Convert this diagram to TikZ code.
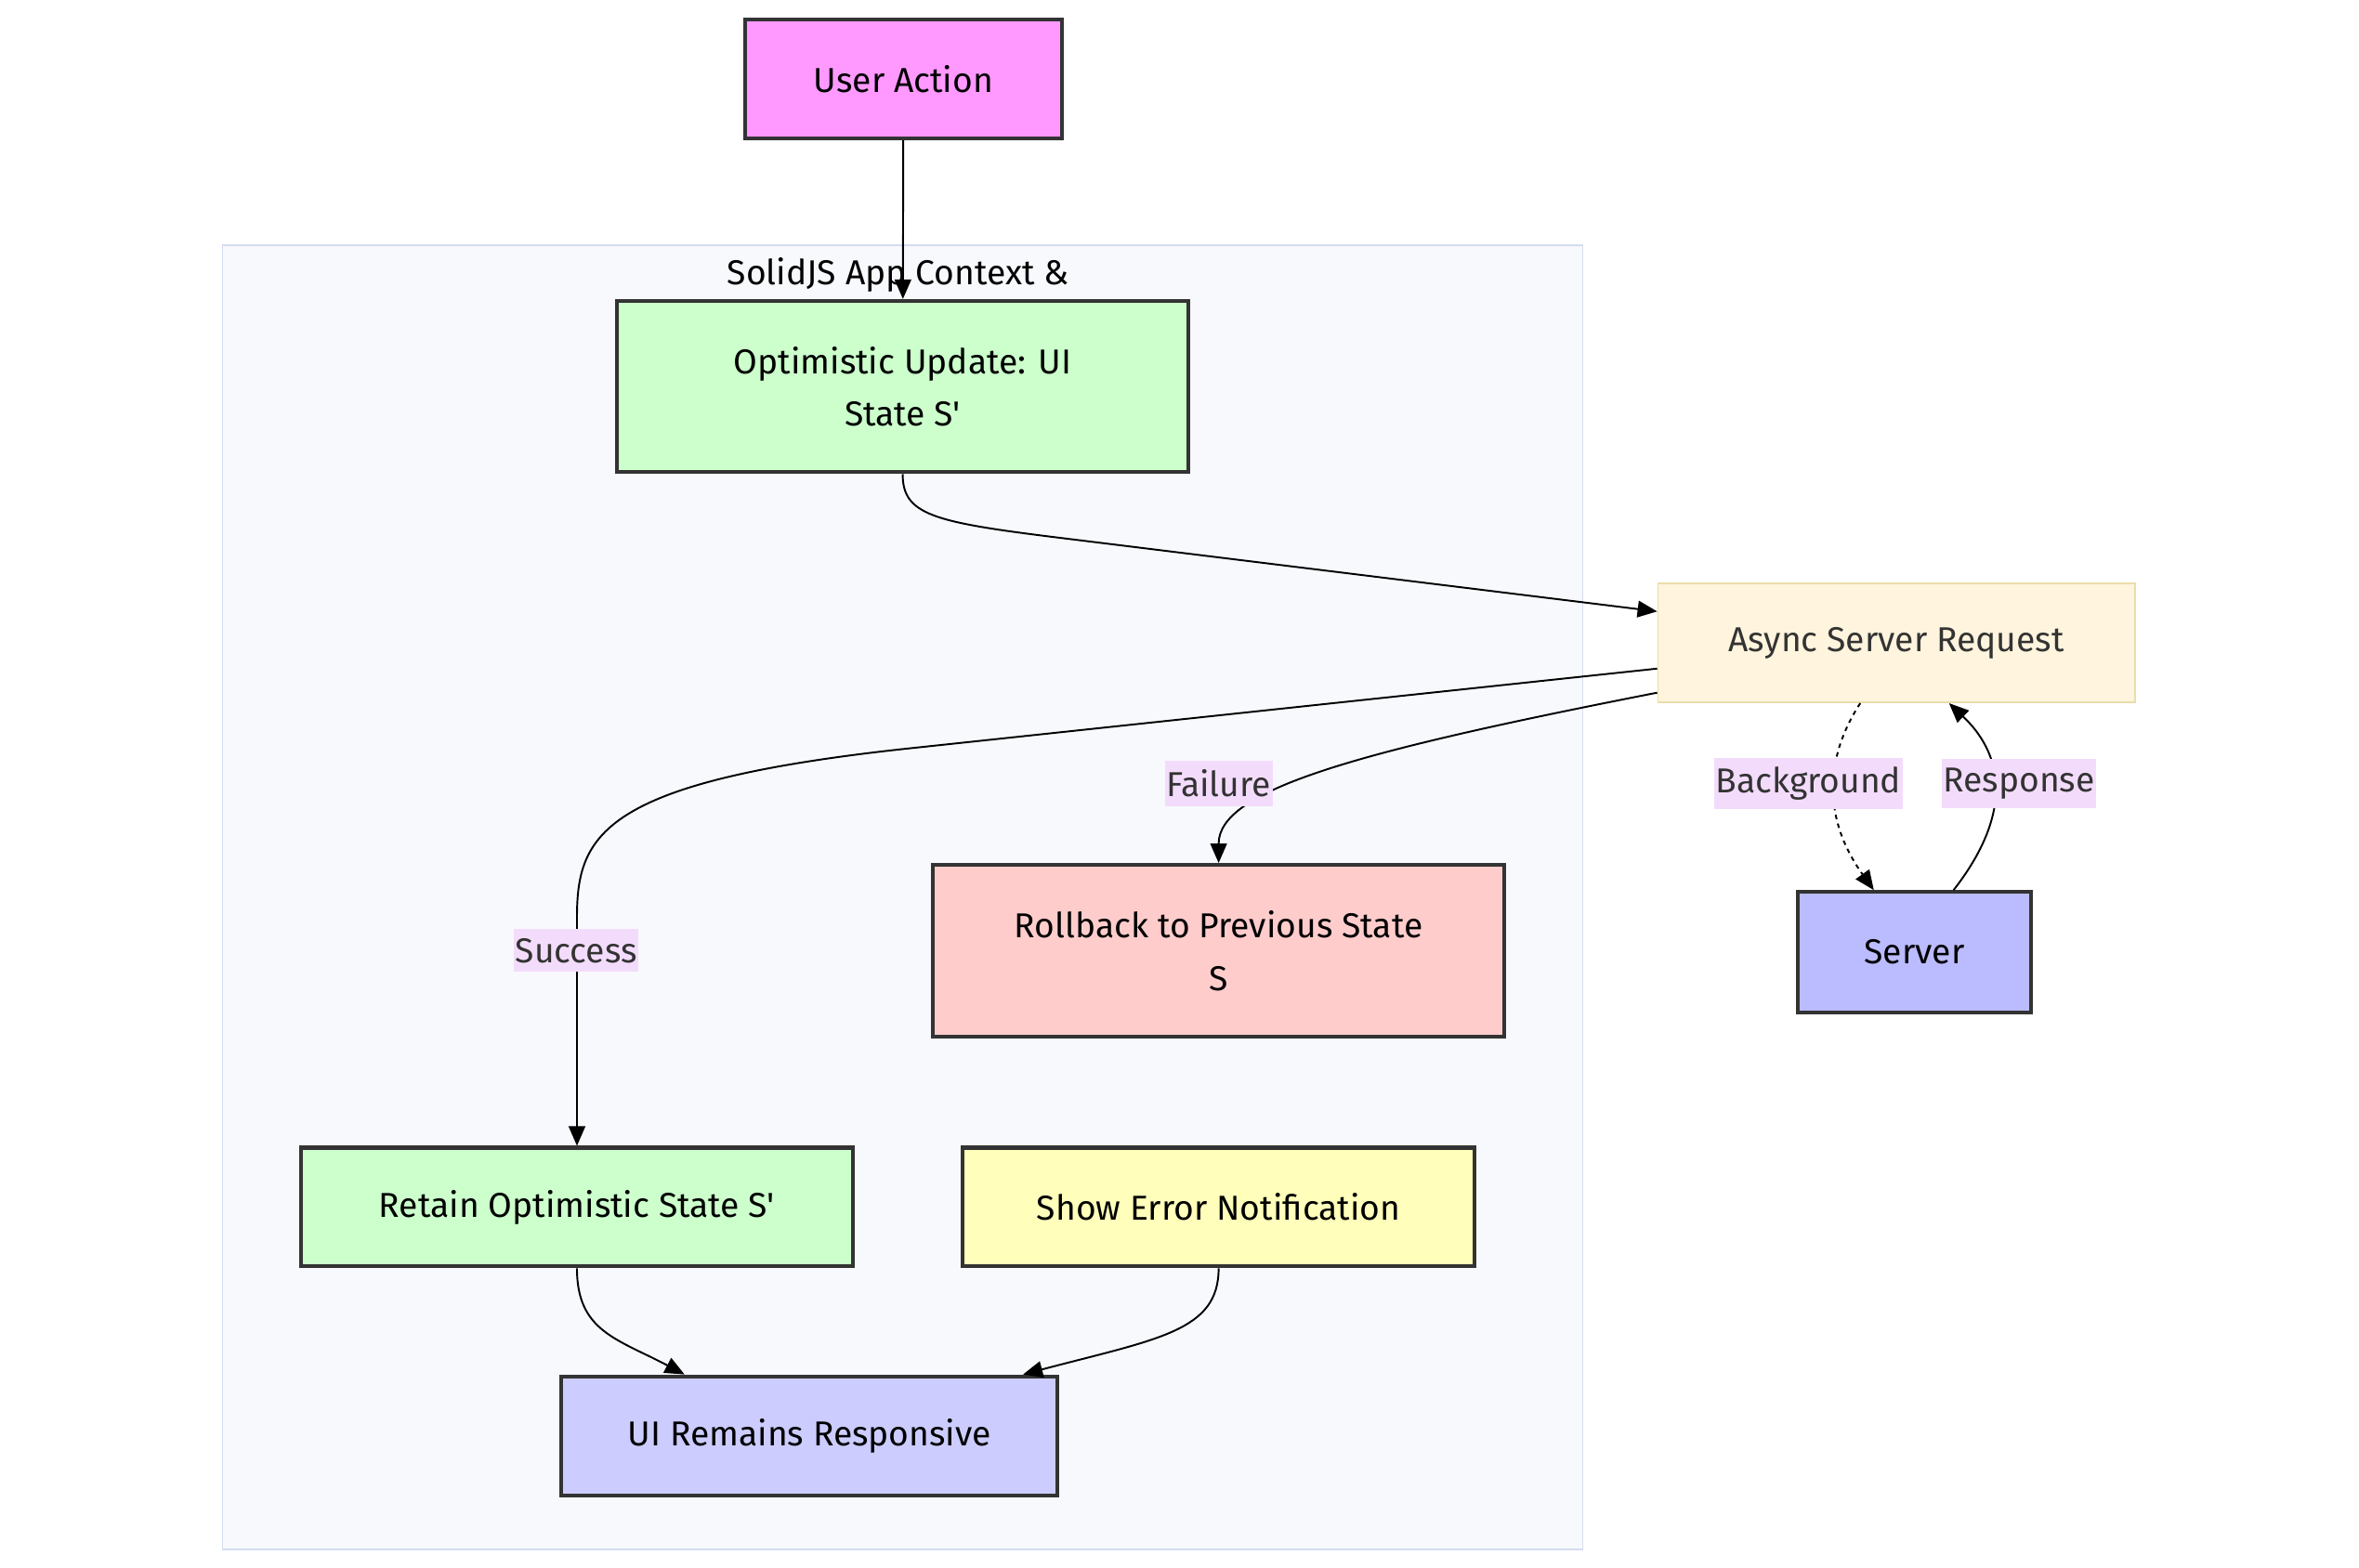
\documentclass[tikz,border=0pt]{standalone}
\usepackage{fontspec}
\setmainfont{Fira Sans}[Ligatures=TeXOff]
\usetikzlibrary{arrows.meta}
\definecolor{boxline}{HTML}{333333}
\definecolor{ctxfill}{HTML}{F8F9FD}
\definecolor{ctxline}{HTML}{D4DCEE}
\definecolor{lblfill}{HTML}{F3DCFB}
\definecolor{lbltext}{HTML}{333333}
\definecolor{userfill}{HTML}{FF99FF}
\definecolor{greenfill}{HTML}{CCFFCC}
\definecolor{reqfill}{HTML}{FFF4DD}
\definecolor{reqline}{HTML}{EBDDAA}
\definecolor{srvfill}{HTML}{BBBBFF}
\definecolor{redfill}{HTML}{FFCCCC}
\definecolor{yelfill}{HTML}{FFFFBB}
\definecolor{bluefill}{HTML}{CCCCFF}
\begin{document}
\begin{tikzpicture}[x=1pt,y=-1pt,
  box/.style={draw=boxline, line width=2.5pt, align=center, inner sep=0pt,
    font=\fontsize{23}{35}\selectfont},
  lbl/.style={fill=lblfill, text=lbltext, inner xsep=1pt, inner ysep=6pt,
    font=\fontsize{23}{26}\selectfont},
  link/.style={-{Triangle[length=13pt,width=11pt]}, line width=1.2pt}]
\useasboundingbox (0,0) rectangle (1568,1042);
\node[draw=ctxline, fill=ctxfill, line width=1pt, minimum width=904pt, minimum height=867pt] (ctx) at (600,596.5) {};
\node[font=\fontsize{23}{26}\selectfont] (ctxtitle) at (597,183) {SolidJS App Context \&};
\node[box, fill=userfill, minimum width=211pt, minimum height=79pt] (ua) at (600.5,52.5) {User Action};
\node[box, fill=greenfill, minimum width=380pt, minimum height=114pt] (ou) at (600,257) {Optimistic Update: UI\\State S'};
\node[box, fill=reqfill, draw=reqline, line width=1pt, text=lbltext, minimum width=317pt, minimum height=79pt] (asr) at (1260.5,427.5) {Async Server Request};
\node[box, fill=srvfill, minimum width=155pt, minimum height=80pt] (srv) at (1272.5,633) {Server};
\node[box, fill=redfill, minimum width=380pt, minimum height=114pt] (rb) at (810,632) {Rollback to Previous State\\S};
\node[box, fill=greenfill, minimum width=367pt, minimum height=79pt] (rs) at (383.5,802.5) {Retain Optimistic State S'};
\node[box, fill=yelfill, minimum width=340pt, minimum height=79pt] (se) at (810,802.5) {Show Error Notification};
\node[box, fill=bluefill, minimum width=330pt, minimum height=79pt] (ur) at (538,954.5) {UI Remains Responsive};

\draw[link] (ua) -- (ou);
\draw[link] (ou.south) .. controls (600,342) and (620,347) .. (700,357) -- ([yshift=21pt]asr.west);
\draw[link] ([yshift=-17pt]asr.west) -- (600,498) .. controls (400,520) and (383.5,555) .. (383.5,610) -- (rs.north);
\draw[link] ([yshift=-33pt]asr.west) .. controls (900,500) and (810,525) .. (rb.north);
\draw[link, dash pattern=on 3pt off 3pt] ([xshift=-24pt]asr.south) .. controls (1212,505) and (1212,545) .. ([xshift=-27pt]srv.north);
\draw[link] ([xshift=26pt]srv.north) .. controls (1335,545) and (1335,505) .. ([xshift=35pt]asr.south);
\draw[link] (rs.south) .. controls (383.5,885) and (410,890) .. ([xshift=-83pt]ur.north);
\draw[link] (se.south) .. controls (810,885) and (770,890) .. ([xshift=142pt]ur.north);

\node[lbl] (lsucc) at (383,632) {Success};
\node[lbl] (lfail) at (810,521) {Failure};
\node[lbl] (lback) at (1202,521) {Background};
\node[lbl] (lresp) at (1342,521) {Response};
\end{tikzpicture}
\end{document}
